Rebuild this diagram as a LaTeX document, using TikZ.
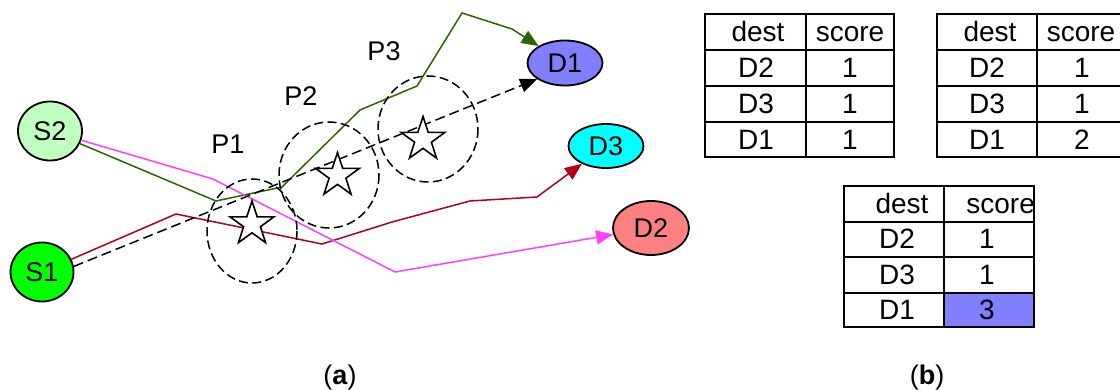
\documentclass[tikz,border=0pt]{standalone}
\usepackage{fontspec}
\setmainfont{Liberation Sans}
\usetikzlibrary{shapes.geometric,arrows.meta}
\definecolor{srcone}{HTML}{00FF00}
\definecolor{srctwo}{HTML}{C0FFC0}
\definecolor{dstone}{HTML}{8080FF}
\definecolor{dsttwo}{HTML}{FF8080}
\definecolor{dstthree}{HTML}{00FFFF}
\definecolor{pathgreen}{HTML}{2B6600}
\definecolor{pathred}{HTML}{B3001B}
\definecolor{pathpink}{HTML}{FF40FF}
\begin{document}
\begin{tikzpicture}[x=0.5pt,y=-0.5pt,
  every node/.style={font=\fontsize{13.5}{16}\selectfont},
  host/.style={ellipse,draw,line width=0.9pt,inner sep=0pt},
  hop/.style={star,star points=5,star point ratio=2.6,minimum size=23pt,
    inner sep=0pt,draw,line width=0.8pt,fill=white},
  zone/.style={line width=0.75pt,dash pattern=on 4.5pt off 2.2pt},
  route/.style={line width=0.75pt,-{Triangle[length=8.5pt,width=7pt]}},
  tabline/.style={line width=0.75pt},
  tabtext/.style={inner sep=0pt,text height=9.5pt,text depth=0pt,
    font=\fontsize{14}{16}\selectfont}]
  \clip (0,0) rectangle (1120,390);
  % (a) sources and destinations
  \node[host,fill=srctwo,minimum width=32pt,minimum height=29.5pt] (S2) at (50,131) {S2};
  \node[host,fill=srcone,minimum width=31.5pt,minimum height=29.5pt] (S1) at (42,272) {S1};
  \node[host,fill=dstone,minimum width=37.5pt,minimum height=22.5pt] (D1) at (565,63) {D1};
  \node[host,fill=dstthree,minimum width=37.5pt,minimum height=22pt] (D3) at (606,146) {D3};
  \node[host,fill=dsttwo,minimum width=38pt,minimum height=27pt] (D2) at (651,228) {D2};
  \draw[route,pathgreen] (S2) -- (216,201) -- (282,187) -- (360,110) -- (417,86)
    -- (462,13) -- (512,29) -- (D1);
  \draw[route,pathred] (S1) -- (176,214) -- (322,244) -- (392,222) -- (470,201)
    -- (537,197) -- (D3);
  \draw[route,pathpink] (S2) -- (213,179) -- (395,272) -- (D2);
  \draw[route,black,dash pattern=on 5pt off 2.5pt] (S1.10) -- (D1.210);
  % peers
  \draw[zone] (252,231) ellipse [x radius=45, y radius=52];
  \draw[zone] (329,175) ellipse [x radius=50, y radius=53];
  \draw[zone] (428,129) ellipse [x radius=50, y radius=53];
  \node[hop] (h1) at (252,224) {};
  \node[hop] (h2) at (337.5,175.5) {};
  \node[hop] (h3) at (423,139.5) {};
  \node (p1) at (228,144.5) {P1};
  \node (p2) at (301,96.5) {P2};
  \node (p3) at (384,51) {P3};
  % (b) tables
  \draw[tabline] (705,14) rectangle (894,157) (806,14) -- (806,157);
  \foreach \y in {50,86,122} \draw[tabline] (705,\y) -- (894,\y);
  \node[tabtext] (a-h1) at (758,32) {dest};
  \node[tabtext] (a-h2) at (850,32) {score};
  \foreach \d/\s [count=\i] in {D2/1,D3/1,D1/1} {
    \node[tabtext] (a-d\i) at (756,{32+36*\i}) {\d};
    \node[tabtext] (a-s\i) at (850,{32+36*\i}) {\s};
  }
  \draw[tabline] (937,14) rectangle (1127,157) (1037,14) -- (1037,157);
  \foreach \y in {50,86,122} \draw[tabline] (937,\y) -- (1127,\y);
  \node[tabtext] (b-h1) at (990,32) {dest};
  \node[tabtext] (b-h2) at (1081,32) {score};
  \foreach \d/\s [count=\i] in {D2/1,D3/1,D1/2} {
    \node[tabtext] (b-d\i) at (987,{32+36*\i}) {\d};
    \node[tabtext] (b-s\i) at (1082,{32+36*\i}) {\s};
  }
  \fill[dstone] (944,293) rectangle (1034,327);
  \draw[tabline] (844,186) rectangle (1034,327) (944,186) -- (944,327);
  \foreach \y in {222,257,293} \draw[tabline] (844,\y) -- (1034,\y);
  \node[tabtext] (c-h1) at (902,204) {dest};
  \begin{scope}
    \clip (944,186) rectangle (1034,222);
    \node[tabtext,anchor=west] (c-h2) at (966,204) {score};
  \end{scope}
  \foreach \d/\s/\yy in {D2/1/239.5,D3/1/275,D1/3/310} {
    \node[tabtext] (c-\d) at (897,\yy) {\d};
    \node[tabtext] (c-s\d) at (987,\yy) {\s};
  }
  % captions
  \node (capa) at (340,378) {(\textbf{a})};
  \node (capb) at (927,378) {(\textbf{b})};
\end{tikzpicture}
\end{document}
